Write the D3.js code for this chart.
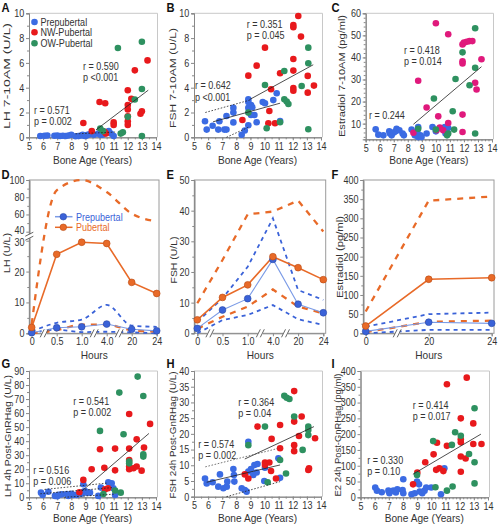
<!DOCTYPE html>
<html><head><meta charset="utf-8">
<script src="https://cdn.jsdelivr.net/npm/d3@7"></script>
<style>body{margin:0;background:#fff} text{font-family:"Liberation Sans",Arial,sans-serif}</style>
</head><body>
<svg id="c" width="499" height="525"></svg>
<script>
// ---------- DATA ----------
const boneTicks = [5,6,7,8,9,10,11,12,13,14];
const groupNames = ["Prepubertal","NW-Pubertal","OW-Pubertal"];

const aPre = [[5.8,0.1],[6.1,0.12],[6.3,0.15],[6.8,0.12],[7.0,0.15],[7.2,0.1],[7.4,0.12],[7.6,0.1],[7.8,0.15],[8.0,0.2],[8.3,0.08],[8.5,0.1],[8.7,0.15],[8.8,0.2],[8.95,0.1],[9.05,0.12],[9.15,0.2],[9.3,0.25],[9.6,0.2],[9.9,0.3],[10.05,0.2],[10.2,0.2],[10.5,0.4],[10.65,0.5],[10.8,0.3],[11.0,0.1]];
const aNW = [[8.85,1.15],[9.45,0.5],[10.0,2.85],[10.4,2.75],[10.35,0.45],[10.45,0.3],[11.0,1.2],[11.0,1.0],[12.0,3.8],[12.0,2.6],[12.0,2.25],[12.0,1.7],[12.0,1.3],[12.0,1.0],[12.25,3.1],[12.5,5.4],[12.9,1.9],[13.0,2.1],[13.4,6.2]];
const aOW = [[10.05,0.7],[10.25,0.5],[11.3,7.2],[11.5,0.3],[11.65,0.4],[12.0,1.65],[12.5,3.05],[13.0,7.7],[13.0,3.9],[13.0,0.1]];

const bPre = [[5.78,1.3],[5.9,0.62],[6.32,0.93],[6.8,1.3],[6.72,0.62],[7.15,0.62],[7.3,0.62],[7.3,1.72],[7.79,2.37],[7.79,1.99],[7.79,1.2],[8.38,0.2],[8.6,0.55],[8.85,2.85],[8.85,2.37],[8.85,0.97],[9.04,2.6],[9.13,2.42],[9.28,1.8],[9.44,1.21],[9.87,2.85],[10.03,2.74],[10.62,3.0],[10.86,3.55],[11.1,1.32],[8.85,3.06],[9.04,1.8]];
const bNW = [[12.39,9.78],[12.04,9.06],[12.04,8.87],[12.58,8.12],[10.03,7.23],[9.44,5.78],[8.85,4.97],[12.04,6.32],[12.04,5.38],[11.1,5.16],[10.46,3.87],[12.04,3.98],[12.04,3.76],[13.06,3.6],[13.06,4.95],[13.5,4.17],[10.34,2.12],[8.43,1.4],[10.27,1.13],[10.74,1.13]];
const bOW = [[10.03,4.22],[11.4,5.35],[13.1,7.23],[13.1,5.97],[12.63,4.14],[11.4,3.06],[11.57,2.88],[11.69,2.69],[8.85,1.99],[10.15,0.73],[11.1,1.21],[13.1,0.65]];

const cPre = [[5.71,7.4],[5.9,5.0],[6.26,4.7],[6.68,6.5],[6.73,5.5],[6.85,4.7],[7.0,6.0],[7.13,6.5],[7.2,7.7],[7.4,7.0],[7.63,5.5],[7.72,4.7],[8.27,7.3],[8.5,4.7],[8.67,6.5],[8.67,5.0],[8.74,8.5],[8.74,3.9],[8.9,4.7],[8.98,3.9],[9.34,5.5],[9.76,8.5],[10.0,6.5],[10.64,8.5],[10.88,8.0],[10.69,5.5]];
const cNW = [[10.0,55.5],[10.88,50.5],[11.9,45.9],[12.0,46.7],[12.2,47.1],[12.4,47.4],[12.6,47.4],[11.9,38.3],[11.9,37.3],[8.74,29.4],[13.25,39.2],[12.8,28.5],[12.9,25.5],[9.34,17.3],[10.17,13.3],[11.9,14.1],[10.88,10.3],[8.4,5.9],[10.28,8.2],[10.52,7.0],[10.05,7.0],[11.9,6.2]];
const cOW = [[12.8,53.2],[11.9,42.3],[12.8,35.3],[12.4,27.4],[11.4,30.2],[9.86,21.4],[11.2,15.6],[8.74,7.7],[10.0,7.3],[11.3,7.3],[10.88,5.5],[10.8,4.7],[12.8,5.5]];

const gPre = [[5.85,3.3],[5.97,1.7],[6.37,4],[6.84,1],[7.0,0.8],[7.08,1.7],[7.32,2.1],[7.67,2.4],[7.79,1],[8.0,2.5],[8.14,1.7],[8.38,1.7],[8.73,2.6],[8.85,4],[8.85,9.3],[8.97,4.5],[9.09,3.3],[9.32,3.3],[9.91,1],[10.1,6.9],[10.62,10.7],[10.86,10],[10.98,6.4],[11.1,1.7]];
const gNW = [[12.1,59.4],[13.58,52.3],[12.63,41.3],[10.03,34.2],[11.1,34.7],[12.1,34.7],[13.15,35.4],[9.44,20],[10.34,21.1],[11.1,19.2],[12.1,21.9],[12.1,20],[12.4,20.7],[12.63,21.9],[12.98,19],[12.1,26.6],[8.85,12.4],[8.57,3.6],[10.39,5.7],[10.6,6.4]];
const gOW = [[12.7,86],[11.4,74.6],[13.1,72.2],[10.03,47.3],[11.7,44.9],[13.1,30.6],[13.1,29],[12.1,25.4],[12.1,24.2],[11.5,3.3],[11.1,4.8],[10.27,2.4]];

const hPre = [[5.78,5.8],[5.9,4.2],[6.32,4.6],[6.84,7.1],[6.72,3.2],[7.08,2.7],[7.32,3.2],[7.36,4.8],[7.79,8.8],[7.83,6.9],[7.86,4.8],[8.38,2.7],[8.6,2.1],[8.73,1.6],[8.85,17.5],[8.85,8],[9.04,8.8],[9.2,6.9],[9.28,10.1],[9.44,7.7],[9.5,10.4],[9.98,5],[10.03,9.2],[10.98,12.2],[11.1,6]];
const hNW = [[12.1,33.6],[9.5,22.3],[11.1,22.8],[12.63,25.5],[12.1,23.9],[12.44,19.3],[10.5,18.4],[13.58,18.6],[12.1,16.4],[12.1,14.5],[11.1,15.4],[13.15,9],[13.1,8.5],[10.03,10.9],[10.34,10.9],[10.03,10.1],[10.46,8.2],[10.81,5.8],[8.6,7.1],[8.85,5.8]];
const hOW = [[11.4,32.1],[11.57,31.5],[11.76,31.1],[12.1,25.5],[10.03,22.3],[13.1,22.3],[13.1,21.2],[13.1,19.6],[12.7,14.9],[8.85,16.4],[11.1,11.7],[11.52,7.4],[10.22,4.6]];

const iPre = [[6.04,31],[6.16,21],[6.5,16],[6.97,21],[7.04,13],[7.32,21],[7.5,15],[7.6,25],[7.97,23],[8.02,13],[8.02,57],[8.6,9.5],[8.83,13],[8.99,50],[9.13,41],[9.18,18],[9.36,13],[9.52,21],[9.64,31],[9.99,31],[10.68,9.5],[10.92,92]];
const iNW = [[12.5,379],[11.1,358],[12.08,250],[12.96,234],[12.08,184],[12.08,174],[10.4,173],[11.1,163],[12.08,129],[12.42,123],[12.96,169],[13.54,169],[10.16,136],[10.57,92],[10.34,87],[10.85,83],[12.08,81],[9.57,111],[8.71,41],[9.01,78]];
const iOW = [[13.05,282],[11.68,206],[12.08,195],[10.13,178],[11.45,166],[12.66,137],[13.05,111],[8.99,71],[10.29,32],[11.1,21],[11.5,34],[13.05,44]];

// regression / CI lines (bone age, value)
const aFit = [[9.75,0.6],[13.45,3.8]];
const aPreFit = [[8.3,0.28],[11.1,0.42]];
const bFit = [[8.95,3.05],[13.45,5.85]];
const bPreFit = [[6.35,1.25],[11.1,2.75]];
const bPreHi = [[5.8,2.0],[8.95,3.0]];
const bPreLo = [[7.3,0.0],[8.95,0.86]];
const cFit = [[8.4,9.7],[13.25,35.8]];
const gFit = [[8.75,4.5],[13.5,45.5]];
const gPreFit = [[5.8,2.5],[11.0,7.0]];
const gPreHi = [[6.1,5.6],[10.6,10.2]];
const gPreLo = [[7.5,0.0],[11.0,2.2]];
const hFit = [[8.6,12.0],[13.5,22.3]];
const hPreFit = [[5.9,4.6],[11.1,10.1]];
const hPreHi = [[5.8,9.5],[10.9,15.3]];
const hPreLo = [[7.3,0.0],[11.1,4.8]];
const iFit = [[8.7,73],[13.5,200]];

// GnRHag time courses
const dHours = ["0","0.5","1.0","4.0","20","24"];
const dPubMean = [1.9,25.6,29.5,29.1,16.5,12.9];
const dPubHi = [3,88,100,86,61,52];
const dPubLo = [0,1.0,2.8,2.8,1.0,0.6];
const dPreMean = [0.2,1.8,2.1,3.0,1.3,0.8];
const dPreHi = [0.6,3.4,4.4,9.2,2.5,2.1];
const dPreLo = [0,1.2,0.4,0.5,0.3,0];
const dTicks = [0,10,20,30,40,60,80,100];

const eHours = ["0","0.5","1.0","4.0","20","24"];
const ePubMean = [4.4,11.7,15.8,25.0,21.4,17.5];
const ePubHi = [9.8,23.9,38.8,39.7,43.3,33.2];
const ePubLo = [1.5,5.4,8.7,14.3,8.7,6.5];
const ePreMean = [1.6,7.6,11.3,24.1,9.5,6.7];
const ePreHi = [3.8,11.4,21.7,37.5,14.1,10.9];
const ePreLo = [0,4.3,6.0,9.2,4.6,2.7];
const eTicks = [0,10,20,30,40,50];

const fHours = ["0","20","24"];
const fPubMean = [19,141,145];
const fPubHi = [57,346,357];
const fPubLo = [3,30,33];
const fPreMean = [5,29,26];
const fPreHi = [17,50,54];
const fPreLo = [0,9,9];
const fTicks = [0,50,100,150,200,250,300,350,400];

// ---------- STYLE ----------
const SX = 0.86;
const C_BLUE = "#3b6be3", C_RED = "#e8191c", C_GREEN = "#2e9160", C_PINK = "#e0197c";
const C_OR = "#e86a28", C_OR_D = "#b94a12", C_BL = "#3a62d8", C_BL_L = "#7b9be6";
const svg = d3.select("#c");

function hText(x, y, s, o = {}) {
  return svg.append("text").attr("transform", `translate(${x},${y}) scale(${SX},1)`)
    .attr("font-size", o.size || 10.5).attr("text-anchor", o.anchor || "start")
    .attr("font-weight", o.weight || "normal").attr("fill", o.fill || "#333").text(s);
}
function vText(x, y, s, len, o = {}) {
  return svg.append("text").attr("transform", `translate(${x},${y}) rotate(-90) scale(1,0.9)`)
    .attr("font-size", o.size || 11).attr("text-anchor", "middle").attr("fill", "#333")
    .attr("textLength", len).attr("lengthAdjust", "spacingAndGlyphs").text(s);
}
function styleAxis(g) {
  g.attr("font-family", null).attr("font-size", null);
  g.select(".domain").attr("stroke", "#888");
  g.selectAll(".tick line").attr("stroke", "#888");
  g.selectAll(".tick text").attr("fill", "#333").attr("font-size", 10.5)
    .attr("transform", `scale(${SX},1)`);
}
function breakMark(cx, cy, vertical) {
  const g = svg.append("g").attr("transform", `translate(${cx},${cy})`);
  if (vertical) {
    g.append("rect").attr("x", -4).attr("y", -2).attr("width", 8).attr("height", 4).attr("fill", "#fff");
    [-2, 2].forEach(o => g.append("line").attr("x1", -4).attr("y1", o + 2).attr("x2", 4).attr("y2", o - 2).attr("stroke", "#555").attr("stroke-width", 0.9));
  } else {
    g.append("rect").attr("x", -2.5).attr("y", -4).attr("width", 5).attr("height", 8).attr("fill", "#fff");
    [-2, 2].forEach(o => g.append("line").attr("x1", o - 2).attr("y1", 4).attr("x2", o + 2).attr("y2", -4).attr("stroke", "#555").attr("stroke-width", 0.9));
  }
}

// ---------- SCATTER PANELS ----------
function scatter(p) {
  const x = d3.scaleLinear().domain([5, 14]).range([p.x0, p.x1]);
  const y = d3.scaleLinear().domain(p.yDom).range([p.yB, p.yT]);
  svg.append("path").attr("d", `M${p.x0},${p.yT}H${p.x1 + 1.5}V${p.yB}`).attr("fill", "none").attr("stroke", "#c8c8c8");
  const xm = svg.append("g").attr("transform", `translate(0,${p.yB})`)
    .call(d3.axisBottom(x).tickValues(d3.range(5, 14.01, p.xMinor)).tickFormat("").tickSize(2));
  styleAxis(xm);
  const ym = svg.append("g").attr("transform", `translate(${p.x0},0)`)
    .call(d3.axisLeft(y).tickValues(p.yMinor).tickFormat("").tickSize(2));
  styleAxis(ym);
  const xa = svg.append("g").attr("transform", `translate(0,${p.yB})`)
    .call(d3.axisBottom(x).tickValues(boneTicks).tickFormat(d3.format("d")).tickSize(3).tickPadding(2));
  styleAxis(xa);
  const ya = svg.append("g").attr("transform", `translate(${p.x0},0)`)
    .call(d3.axisLeft(y).tickValues(p.yTicks).tickSize(3).tickPadding(2.5));
  styleAxis(ya);
  p.series.forEach(s => {
    svg.append("g").selectAll("circle").data(s.data).join("circle")
      .attr("cx", d => x(d[0])).attr("cy", d => y(d[1])).attr("r", 3.3).attr("fill", s.color);
  });
  p.lines.forEach(l => {
    svg.append("line").attr("x1", x(l.pts[0][0])).attr("y1", y(l.pts[0][1]))
      .attr("x2", x(l.pts[1][0])).attr("y2", y(l.pts[1][1]))
      .attr("stroke", l.color || "#222").attr("stroke-width", l.w || 0.8)
      .attr("stroke-dasharray", l.dash || null);
  });
  p.texts.forEach(t => hText(t[0], t[1], t[2], { size: 10.5 }));
  hText(p.letter[0], p.letter[1], p.letter[2], { size: 13, weight: "bold", fill: "#111" });
  hText((p.x0 + p.x1) / 2, p.xtY, "Bone Age (Years)", { size: 11.8, anchor: "middle" });
  vText(p.ylX, p.ylY, p.ylabel, p.ylLen);
  return { x, y };
}

const DOT = "1.6,1.6";

scatter({ x0: 29, x1: 156, yDom: [0, 10], yB: 137.3, yT: 13.3, xtY: 164, xMinor: 0.5,
  yTicks: [0, 2, 4, 6, 8, 10], yMinor: [1, 3, 5, 7, 9],
  series: [{ data: aPre, color: C_BLUE }, { data: aNW, color: C_RED }, { data: aOW, color: C_GREEN }],
  lines: [{ pts: aFit }, { pts: aPreFit, dash: DOT }],
  texts: [[83, 70, "r = 0.590"], [83, 81, "p <0.001"], [34, 113.5, "r = 0.571"], [34, 124.5, "p = 0.002"]],
  letter: [1.5, 12, "A"], ylabel: "LH 7-10AM (U/L)", ylX: 9.5, ylY: 76, ylLen: 106 });

// legend in A
[C_BLUE, C_RED, C_GREEN].forEach((c, i) => {
  const yy = [22, 32.3, 43.3][i];
  svg.append("circle").attr("cx", 34.5).attr("cy", yy).attr("r", 3.3).attr("fill", c);
  hText(40.5, yy + 3.8, groupNames[i], { size: 10.5 });
});

scatter({ x0: 194, x1: 321, yDom: [0, 10], yB: 137.3, yT: 13.3, xtY: 164, xMinor: 0.5,
  yTicks: [0, 2, 4, 6, 8, 10], yMinor: [1, 3, 5, 7, 9],
  series: [{ data: bPre, color: C_BLUE }, { data: bNW, color: C_RED }, { data: bOW, color: C_GREEN }],
  lines: [{ pts: bFit }, { pts: bPreFit }, { pts: bPreHi, dash: DOT }, { pts: bPreLo, dash: DOT }],
  texts: [[246.7, 27.5, "r = 0.351"], [246.7, 38.5, "p = 0.045"], [195, 89, "r = 0.642"], [195, 100.5, "p <0.001"]],
  letter: [166.5, 12, "B"], ylabel: "FSH 7-10AM (U/L)", ylX: 175.5, ylY: 78, ylLen: 100 });

scatter({ x0: 365.7, x1: 492, yDom: [2.9, 60], yB: 139.3, yT: 13.3, xtY: 164, xMinor: 0.25,
  yTicks: [10, 20, 30, 40, 50, 60], yMinor: d3.range(4, 60, 2),
  series: [{ data: cPre, color: C_BLUE }, { data: cNW, color: C_PINK }, { data: cOW, color: C_GREEN }],
  lines: [{ pts: cFit }],
  texts: [[404, 53.5, "r = 0.418"], [404, 65, "p = 0.014"], [369, 119, "r = 0.244"]],
  letter: [331.5, 12, "C"], ylabel: "Estradiol 7-10AM (pg/ml)", ylX: 345, ylY: 76, ylLen: 122 });

scatter({ x0: 29, x1: 156, yDom: [0, 90], yB: 497.3, yT: 371, xtY: 522, xMinor: 0.5,
  yTicks: d3.range(0, 91, 10), yMinor: d3.range(5, 90, 10),
  series: [{ data: gPre, color: C_BLUE }, { data: gNW, color: C_RED }, { data: gOW, color: C_GREEN }],
  lines: [{ pts: gFit }, { pts: gPreFit, dash: DOT }, { pts: gPreHi, dash: DOT }, { pts: gPreLo, dash: DOT }],
  texts: [[73.3, 405, "r = 0.541"], [73.3, 416, "p = 0.002"], [33.3, 473.5, "r = 0.516"], [33.3, 484.5, "p = 0.006"]],
  letter: [1.5, 368, "G"], ylabel: "LH 4h Post-GnRHag (U/L)", ylX: 10.5, ylY: 436, ylLen: 122 });

scatter({ x0: 194, x1: 321, yDom: [0, 40], yB: 496.7, yT: 371, xtY: 522, xMinor: 0.5,
  yTicks: d3.range(0, 41, 5), yMinor: d3.range(2.5, 40, 5),
  series: [{ data: hPre, color: C_BLUE }, { data: hNW, color: C_RED }, { data: hOW, color: C_GREEN }],
  lines: [{ pts: hFit }, { pts: hPreFit }, { pts: hPreHi, dash: DOT, color: "#555" }, { pts: hPreLo, dash: DOT }],
  texts: [[238.3, 405.5, "r = 0.364"], [238.3, 416.5, "p = 0.04"], [198.3, 447.5, "r = 0.574"], [198.3, 458.5, "p = 0.002"]],
  letter: [166.5, 368, "H"], ylabel: "FSH 24h Post-GnRHag (U/L)", ylX: 176, ylY: 435, ylLen: 127 });

scatter({ x0: 360.5, x1: 488, yDom: [0, 400], yB: 497.3, yT: 371, xtY: 522, xMinor: 0.25,
  yTicks: d3.range(0, 401, 50), yMinor: d3.range(25, 400, 50),
  series: [{ data: iPre, color: C_BLUE }, { data: iNW, color: C_RED }, { data: iOW, color: C_GREEN }],
  lines: [{ pts: iFit }],
  texts: [[412.7, 408.5, "r = 0.414"], [412.7, 419.5, "p = 0.017"], [367.3, 463.5, "r = 0.330"], [367.3, 474.5, "p = 0.10"]],
  letter: [331.5, 368, "I"], ylabel: "E2 24h Post-GnRHag (pg/ml)", ylX: 341, ylY: 435, ylLen: 123 });

// ---------- TIME-COURSE PANELS ----------
function course(p) {
  const x = d3.scalePoint().domain(p.cats).range([p.px0, p.px1]);
  const y = p.y;
  svg.append("rect").attr("x", p.fx0).attr("y", p.yT).attr("width", p.fx1 - p.fx0).attr("height", p.yB - p.yT)
    .attr("fill", "none").attr("stroke", "#9a9a9a");
  const ym = svg.append("g").attr("transform", `translate(${p.fx0},0)`)
    .call(d3.axisLeft(y).tickValues(p.yMinor).tickFormat("").tickSize(2));
  styleAxis(ym);
  const ya = svg.append("g").attr("transform", `translate(${p.fx0},0)`)
    .call(d3.axisLeft(y).tickValues(p.ticks).tickSize(3).tickPadding(2.5));
  styleAxis(ya);
  if (p.nudge) ya.selectAll(".tick text").attr("dy", d => (p.nudge[d] !== undefined ? p.nudge[d] : 3.5) + "px");
  const xa = svg.append("g").attr("transform", `translate(0,${p.yB})`)
    .call(d3.axisBottom(x).tickSize(3).tickPadding(1));
  styleAxis(xa);
  const dash = d3.line().x((d, i) => x(p.cats[i])).y(d => y(d)).curve(p.curve);
  const solid = d3.line().x((d, i) => x(p.cats[i])).y(d => y(d));
  [p.preHi, p.preLo].forEach(arr => svg.append("path").attr("d", dash(arr)).attr("fill", "none")
    .attr("stroke", C_BL).attr("stroke-width", 1.8).attr("stroke-dasharray", "4,4"));
  [p.pubHi, p.pubLo].forEach(arr => svg.append("path").attr("d", dash(arr)).attr("fill", "none")
    .attr("stroke", C_OR).attr("stroke-width", 2.3).attr("stroke-dasharray", "6,6"));
  svg.append("path").attr("d", solid(p.preMean)).attr("fill", "none").attr("stroke", C_BL_L).attr("stroke-width", 1.1);
  svg.append("path").attr("d", solid(p.pubMean)).attr("fill", "none").attr("stroke", C_OR).attr("stroke-width", 1.6);
  svg.append("g").selectAll("circle").data(p.preMean).join("circle")
    .attr("cx", (d, i) => x(p.cats[i])).attr("cy", d => y(d)).attr("r", 3.4)
    .attr("fill", C_BL).attr("stroke", "#2a4aa8").attr("stroke-width", 0.6);
  svg.append("g").selectAll("circle").data(p.pubMean).join("circle")
    .attr("cx", (d, i) => x(p.cats[i])).attr("cy", d => y(d)).attr("r", 3.4)
    .attr("fill", C_OR).attr("stroke", C_OR_D).attr("stroke-width", 0.6);
  p.breaks.forEach(b => breakMark((x(p.cats[b]) + x(p.cats[b + 1])) / 2, p.yB, false));
  hText((p.px0 + p.px1) / 2, 358.5, "Hours", { size: 11.8, anchor: "middle" });
  hText(p.letter[0], p.letter[1], p.letter[2], { size: 13, weight: "bold", fill: "#111" });
  vText(p.ylX, p.ylY, p.ylabel, p.ylLen);
  return { x, y };
}

const dY = d3.scaleLinear().domain([0, 30, 40, 100]).range([333.3, 240.7, 231.7, 180]);
course({ cats: dHours, px0: 31.7, px1: 156.7, fx0: 29.3, fx1: 159, yT: 180, yB: 333.3, y: dY,
  ticks: dTicks, yMinor: [5, 15, 25, 50, 70, 90], curve: d3.curveMonotoneX, nudge: { 30: 5, 40: 2 },
  pubMean: dPubMean, pubHi: dPubHi, pubLo: dPubLo, preMean: dPreMean, preHi: dPreHi, preLo: dPreLo,
  breaks: [0, 2, 3], letter: [1.5, 179, "D"], ylabel: "LH (U/L)", ylX: 9.5, ylY: 253, ylLen: 40 });
breakMark(29.3, (dY(30) + dY(40)) / 2, true);
// legend D
[[216.7, C_BL, C_BL_L, "#2a4aa8", "Prepubertal"], [227.3, C_OR, C_OR, C_OR_D, "Pubertal"]].forEach(r => {
  svg.append("line").attr("x1", 55).attr("x2", 72.5).attr("y1", r[0]).attr("y2", r[0]).attr("stroke", r[2]).attr("stroke-width", 1.5);
  svg.append("circle").attr("cx", 63.3).attr("cy", r[0]).attr("r", 3.3).attr("fill", r[1]).attr("stroke", r[3]).attr("stroke-width", 0.6);
  hText(76, r[0] + 3.8, r[4], { size: 10.5, fill: r[1] });
});

course({ cats: eHours, px0: 197.3, px1: 323.3, fx0: 194.3, fx1: 325.7, yT: 180, yB: 333.3,
  y: d3.scaleLinear().domain([0, 50]).range([333.3, 180]), curve: d3.curveLinear,
  ticks: eTicks, yMinor: d3.range(5, 50, 10),
  pubMean: ePubMean, pubHi: ePubHi, pubLo: ePubLo, preMean: ePreMean, preHi: ePreHi, preLo: ePreLo,
  breaks: [0, 2, 3], letter: [166.5, 179, "E"], ylabel: "FSH (U/L)", ylX: 177, ylY: 260, ylLen: 47 });

course({ cats: fHours, px0: 365.7, px1: 491.7, fx0: 363.3, fx1: 494, yT: 180, yB: 333.3,
  y: d3.scaleLinear().domain([0, 400]).range([333.3, 180]), curve: d3.curveLinear,
  ticks: fTicks, yMinor: d3.range(25, 400, 50),
  pubMean: fPubMean, pubHi: fPubHi, pubLo: fPubLo, preMean: fPreMean, preHi: fPreHi, preLo: fPreLo,
  breaks: [0], letter: [331.5, 179, "F"], ylabel: "Estradiol (pg/ml)", ylX: 342.5, ylY: 257, ylLen: 82 });
</script>
</body></html>
